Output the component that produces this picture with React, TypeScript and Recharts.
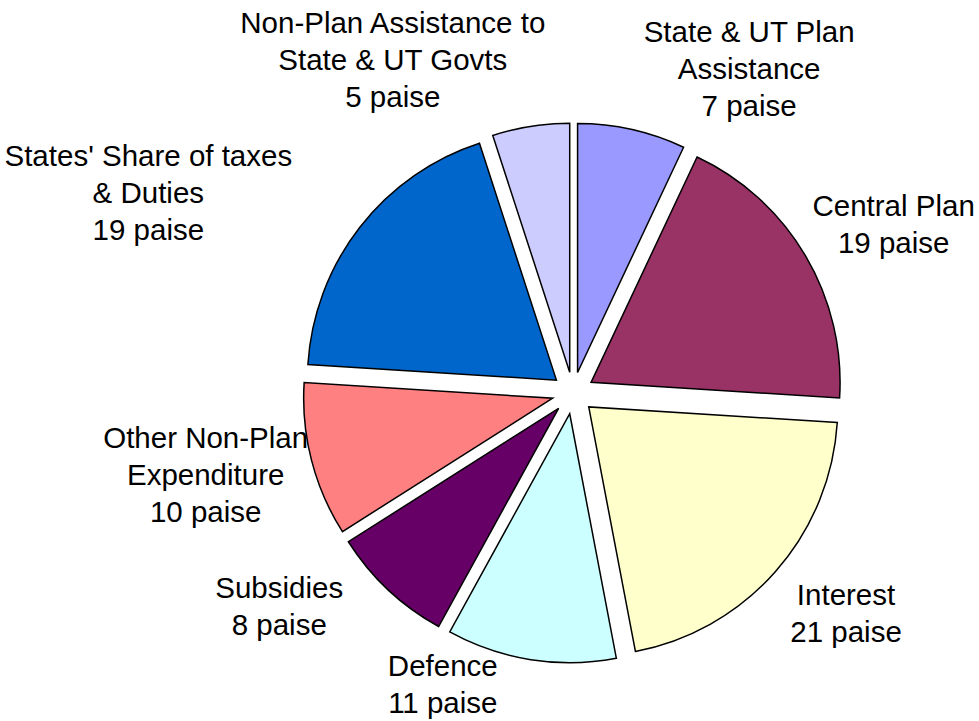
import { PieChart, Pie, Cell, Sector } from "recharts";

const categories = [
  "State & UT Plan Assistance",
  "Central Plan",
  "Interest",
  "Defence",
  "Subsidies",
  "Other Non-Plan Expenditure",
  "States' Share of taxes & Duties",
  "Non-Plan Assistance to State & UT Govts",
];
const paise = [7, 19, 21, 11, 8, 10, 19, 5];
const labelLines = [
  ["State & UT Plan", "Assistance", "7 paise"],
  ["Central Plan", "19 paise"],
  ["Interest", "21 paise"],
  ["Defence", "11 paise"],
  ["Subsidies", "8 paise"],
  ["Other Non-Plan", "Expenditure", "10 paise"],
  ["States' Share of taxes", "& Duties", "19 paise"],
  ["Non-Plan Assistance to", "State & UT Govts", "5 paise"],
];

const colors = ["#9999FF", "#993366", "#FFFFCC", "#CCFFFF", "#660066", "#FF8080", "#0066CC", "#CCCCFF"];
// label nudges from the anchor point on the polar label ring
const labelNudge = [
  [102, -19],
  [28, -4],
  [18, -13],
  [-77, -53],
  [-61, -43],
  [-38, -30],
  [-156, -19],
  [-127, -24],
];

const data = categories.map((name, i) => ({ name, value: paise[i] }));

const RAD = Math.PI / 180;
const EXPLODE = 21;
const LABEL_RING = 340;
const LINE_GAP = 37;

const renderSlice = (props: any) => {
  const dx = EXPLODE * Math.cos(-props.midAngle * RAD);
  const dy = EXPLODE * Math.sin(-props.midAngle * RAD);
  return <Sector {...props} cx={props.cx + dx} cy={props.cy + dy} />;
};

const renderLabel = (props: any) => {
  const { cx, cy, midAngle, index } = props;
  const ax = cx + LABEL_RING * Math.cos(-midAngle * RAD);
  const ay = cy + LABEL_RING * Math.sin(-midAngle * RAD);
  const x = ax + labelNudge[index][0];
  const y = ay + labelNudge[index][1];
  return (
    <text
      key={`lbl-${index}`}
      x={x}
      y={y}
      textAnchor="middle"
      fontFamily="'Liberation Sans', Arial, sans-serif"
      fontSize={29.5}
      fill="#000"
    >
      {labelLines[index].map((line, j) => (
        <tspan key={j} x={x} y={y + j * LINE_GAP}>
          {line}
        </tspan>
      ))}
    </text>
  );
};

export default function App() {
  return (
    <div style={{ position: "absolute", left: 0, top: 0, width: 979, height: 721, background: "#fff" }}>
      <PieChart width={979} height={721} margin={{ top: 0, right: 0, bottom: 0, left: 0 }}>
        <Pie
          data={data}
          dataKey="value"
          nameKey="name"
          cx={573}
          cy={393}
          outerRadius={249}
          startAngle={90}
          endAngle={-270}
          stroke="#000"
          strokeWidth={1.5}
          shape={renderSlice}
          label={renderLabel}
          labelLine={false}
          isAnimationActive={false}
        >
          {data.map((d, i) => (
            <Cell key={d.name} fill={colors[i]} />
          ))}
        </Pie>
      </PieChart>
    </div>
  );
}
